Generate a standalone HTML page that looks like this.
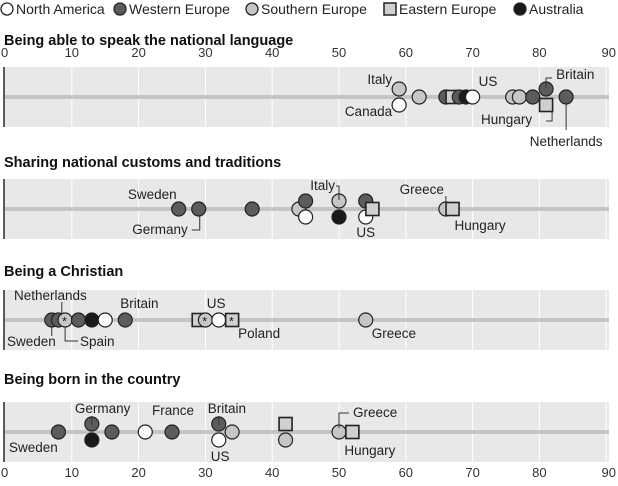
<!DOCTYPE html>
<html><head><meta charset="utf-8"><style>
body{margin:0;background:#fff;width:618px;height:481px;overflow:hidden;font-family:"Liberation Sans",sans-serif}
</style></head><body>
<svg id="c" width="618" height="481" xmlns="http://www.w3.org/2000/svg" font-family="Liberation Sans, sans-serif"></svg>
<script>
const ticks=[0,10,20,30,40,50,60,70,80,90];
const panelTitles=["Being able to speak the national language","Sharing national customs and traditions","Being a Christian","Being born in the country"];
// each point: value, region type, vertical slot, star
const p1Values=[59,59,62,66,67,68,69,70,76,77,79,81,81,84];
const p1Types=["S","N","S","W","E","W","A","N","S","S","W","W","E","W"];
const p1Slots=[-1,1,0,0,0,0,0,0,0,0,0,-1,1,0];
const p2Values=[26,29,37,44,45,45,50,50,54,54,55,66,67];
const p2Types=["W","W","W","S","W","N","S","A","W","N","E","S","E"];
const p2Slots=[0,0,0,0,-1,1,-1,1,-1,1,0,0,0];
const p3Values=[7,8,9,11,13,15,18,29,30,32,34,54];
const p3Types=["W","W","S","W","A","N","W","E","S","N","E","S"];
const p3Slots=[0,0,0,0,0,0,0,0,0,0,0,0];
const p3Stars=[0,0,1,0,0,0,0,0,1,0,1,0];
const p4Values=[8,13,13,16,21,25,32,32,34,42,42,50,52];
const p4Types=["W","W","A","W","N","W","W","N","S","E","S","S","E"];
const p4Slots=[0,-1,1,0,0,0,-1,1,0,-1,1,0,0];
const svg=document.getElementById('c');
const NS="http://www.w3.org/2000/svg";
const x=v=>5+v*6.68;
const fill={N:"#ffffff",W:"#5c5c5c",S:"#c6c6c6",E:"#d0d0d0",A:"#1a1a1a"};
function mk(tag,attrs,parent){const e=document.createElementNS(NS,tag);for(const k in attrs)e.setAttribute(k,attrs[k]);(parent||svg).appendChild(e);return e;}
function txt(s,xx,yy,size,opts){const e=mk('text',Object.assign({x:xx,y:yy,'font-size':size,fill:'#222'},opts||{}));e.textContent=s;return e;}
const leg=[["North America","N",7,"circle"],["Western Europe","W",120,"circle"],["Southern Europe","S",252,"circle"],["Eastern Europe","E",390,"rect"],["Australia","A",520,"circle"]];
leg.forEach(l=>{
 const g=mk('g',{});
 
 
 if(l[3]=="circle")mk('circle',{cx:l[2],cy:9,r:6,fill:fill[l[1]],stroke:'#222','stroke-width':1.3},g);
 else mk('rect',{x:l[2]-6,y:3,width:12,height:12,fill:fill[l[1]],stroke:'#222','stroke-width':1.5},g);
 const t=txt(l[0],l[2]+9,14,14,{},g);g.appendChild(t);
});
const panels=[
 {vals:p1Values,types:p1Types,slots:p1Slots,stars:null,top:67,ty:45},
 {vals:p2Values,types:p2Types,slots:p2Slots,stars:null,top:179,ty:167},
 {vals:p3Values,types:p3Types,slots:p3Slots,stars:p3Stars,top:290,ty:276},
 {vals:p4Values,types:p4Types,slots:p4Slots,stars:null,top:402,ty:384}];
panels.forEach((p,pi)=>{
 const g=mk('g',{});
 
 
 const t=txt(panelTitles[pi],4,p.ty,14.5,{'font-weight':'bold',fill:'#111'});
 
 
 mk('rect',{x:5,y:p.top,width:604,height:60,fill:'#e8e8e8'},g);
 ticks.forEach(tv=>{if(tv>0)mk('line',{x1:x(tv),x2:x(tv),y1:p.top,y2:p.top+60,stroke:'#fff','stroke-width':1},g);});
 mk('line',{x1:4,x2:4,y1:p.top,y2:p.top+60,stroke:'#222','stroke-width':1.5},g);
 const cy=p.top+30;
 mk('line',{x1:5,x2:609,y1:cy,y2:cy,stroke:'#c4c4c4','stroke-width':4},g);
 p.vals.forEach((v,i)=>{
  const yy=cy+p.slots[i]*8;
  let m;
  if(p.types[i]=="E")m=mk('rect',{x:x(v)-6.5,y:yy-6.5,width:13,height:13,fill:fill.E,stroke:'#222','stroke-width':1.6},g);
  else m=mk('circle',{cx:x(v),cy:yy,r:7,fill:fill[p.types[i]],stroke:'#222','stroke-width':1.2},g);
  
  
  if(p.stars&&p.stars[i]){const s=txt('*',x(v)-3,yy+5.5,12,{fill:'#111'});g.appendChild(s);}
 });
});
[57,477].forEach((yy,ai)=>{ticks.forEach(tv=>{
 const t=txt(String(tv),x(tv),yy,13,{'text-anchor':tv==0?'start':(tv==90?'end':'middle'),fill:'#333'});
 if(tv==0)t.setAttribute('x',1);
 if(tv==90)t.setAttribute('x',616);
 
 
});});
const ann=[
 ["Italy",x(p1Values[0])-7,84,"end"],["Canada",x(p1Values[1])-7,116,"end"],["US",x(p1Values[7])+6,86,"start"],
 ["Britain",x(p1Values[11])+10,79,"start"],["Hungary",x(p1Values[12])-14,124,"end"],["Netherlands",x(p1Values[13]),146,"middle"],
 ["Sweden",x(p2Values[0])-2,199,"end"],["Germany",x(p2Values[1])-11,234,"end"],["Italy",x(p2Values[6])-4,190,"end"],
 ["US",x(p2Values[9]),237,"middle"],["Greece",x(p2Values[11])-2,194,"end"],["Hungary",x(p2Values[12])+2,230,"start"],
 ["Netherlands",14,300,"start"],["Sweden",7,346,"start"],["Spain",80,346,"start"],["Britain",x(p3Values[6])-5,308,"start"],
 ["US",x(p3Values[9])-12,308,"start"],["Poland",x(p3Values[10])+6,338,"start"],["Greece",x(p3Values[11])+6,338,"start"],
 ["Sweden",9,452,"start"],["Germany",x(p4Values[1])-17,413,"start"],["France",x(p4Values[5])-20,415,"start"],
 ["Britain",x(p4Values[6])-11,413,"start"],["US",x(p4Values[7])-8,461,"start"],["Greece",x(p4Values[11])+14,417,"start"],["Hungary",x(p4Values[12])-8,455,"start"]];
ann.forEach(a=>{const t=txt(a[0],a[1],a[2],13.5,{'text-anchor':a[3]});
 
 });
const L=[[x(81),88,x(81),78,x(81)+6,78],[x(81)+6,111,x(81)+6,121,x(81),121],[x(84),104,x(84),130],
 [x(29)+1,216,x(29)+1,230,x(29)-7,230],[x(50),200,x(50),186,x(50)-3,186],[x(66),204,x(66),196],
 [x(8.5),313,x(8.5),302],[x(7),327,x(7),336],[x(9),327,x(9),341,78,341],
 [x(13),425,x(13),416],[x(32),425,x(32),416],[x(50),428,x(50),413,x(50)+10,413]];
L.forEach(l=>{let d="M"+l[0]+","+l[1];for(let i=2;i<l.length;i+=2)d+=" L"+l[i]+","+l[i+1];mk('path',{d:d,fill:'none',stroke:'#333','stroke-width':1});});
</script>
</body></html>
